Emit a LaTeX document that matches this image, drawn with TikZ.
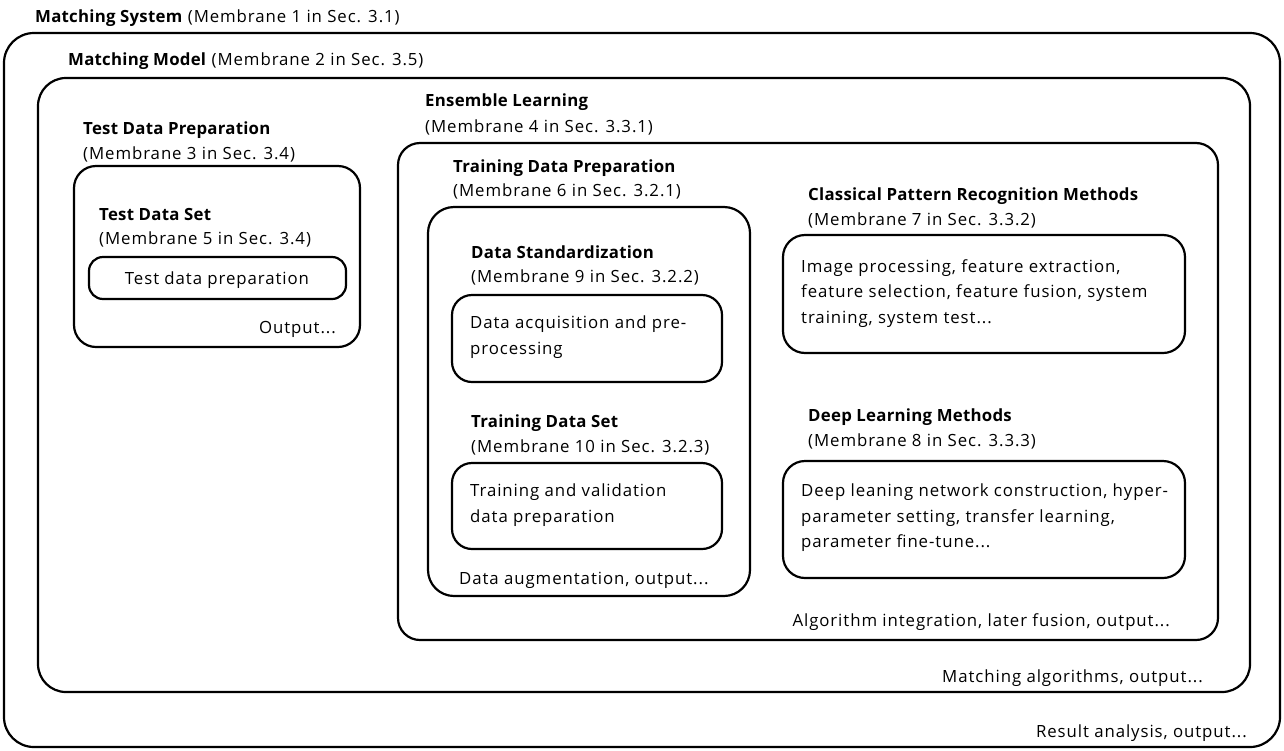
\documentclass[tikz,border=0pt]{standalone}
\usepackage{fontspec}
\setmainfont[LetterSpace=5.5,BoldFeatures={LetterSpace=1.5}]{Open Sans}
\begin{document}
\begin{tikzpicture}[x=1pt,y=-1pt,
  membrane/.style={draw, line width=2.2pt, rounded corners=#1},
  membrane/.default=22pt,
  lbl/.style={anchor=base west, inner sep=0pt, font=\fontsize{16.8}{20}\selectfont},
  lblr/.style={anchor=base east, inner sep=0pt, font=\fontsize{16.8}{20}\selectfont},
  body/.style={anchor=north west, inner sep=0pt, align=left, font=\fontsize{16.8}{25.5}\selectfont}]
\useasboundingbox (0,0) rectangle (1284,750);

% Membrane 1: matching system
\draw[membrane=30pt] (4,33) rectangle (1280,747);
\node[lbl] (t1) at (35,22) {\textbf{Matching System} (Membrane 1 in Sec. 3.1)};
\node[lblr] (o1) at (1247,737) {Result analysis, output...};

% Membrane 2: matching model
\draw[membrane=28pt] (38,78) rectangle (1250,692);
\node[lbl] (t2) at (68,65) {\textbf{Matching Model} (Membrane 2 in Sec. 3.5)};
\node[lblr] (o2) at (1203,682) {Matching algorithms, output...};

% Membrane 3: test data preparation
\node[lbl] (t3) at (83,134) {\textbf{Test Data Preparation}};
\node[lbl] (m3) at (83,159) {(Membrane 3 in Sec. 3.4)};
\draw[membrane] (74,166) rectangle (360,347);
\node[lblr] (o3) at (336,333) {Output...};

% Membrane 5: test data set
\node[lbl] (t5) at (99,220) {\textbf{Test Data Set}};
\node[lbl] (m5) at (99,244) {(Membrane 5 in Sec. 3.4)};
\draw[membrane=14pt] (89,257) rectangle (346,299);
\node[anchor=base, inner sep=0pt, font=\fontsize{16.8}{20}\selectfont] (b5) at (217,284) {Test data preparation};

% Membrane 4: ensemble learning
\node[lbl] (t4) at (425,106) {\textbf{Ensemble Learning}};
\node[lbl] (m4) at (425,132) {(Membrane 4 in Sec. 3.3.1)};
\draw[membrane] (398,143) rectangle (1218,640);
\node[lblr] (o4) at (1170,626) {Algorithm integration, later fusion, output...};

% Membrane 6: training data preparation
\node[lbl] (t6) at (453,172) {\textbf{Training Data Preparation}};
\node[lbl] (m6) at (453,196) {(Membrane 6 in Sec. 3.2.1)};
\draw[membrane=26pt] (428,207) rectangle (750,596);
\node[lbl] (o6) at (459,584) {Data augmentation, output...};

% Membrane 9: data standardization
\node[lbl] (t9) at (471,258) {\textbf{Data Standardization}};
\node[lbl] (m9) at (471,282) {(Membrane 9 in Sec. 3.2.2)};
\draw[membrane=20pt] (452,295) rectangle (722,382);
\node[body] (b9) at (470,316) {Data acquisition and pre-\\processing};

% Membrane 10: training data set
\node[lbl] (t10) at (471,427) {\textbf{Training Data Set}};
\node[lbl] (m10) at (471,452) {(Membrane 10 in Sec. 3.2.3)};
\draw[membrane=20pt] (452,463) rectangle (722,549);
\node[body] (b10) at (470,484) {Training and validation\\data preparation};

% Membrane 7: classical pattern recognition
\node[lbl] (t7) at (808,200) {\textbf{Classical Pattern Recognition Methods}};
\node[lbl] (m7) at (808,225) {(Membrane 7 in Sec. 3.3.2)};
\draw[membrane] (783,235) rectangle (1185,353);
\node[body] (b7) at (801,259) {Image processing, feature extraction,\\feature selection, feature fusion, system\\training, system test...};

% Membrane 8: deep learning
\node[lbl] (t8) at (808,421) {\textbf{Deep Learning Methods}};
\node[lbl] (m8) at (808,446) {(Membrane 8 in Sec. 3.3.3)};
\draw[membrane] (783,461) rectangle (1185,578);
\node[body] (b8) at (801,484) {Deep leaning network construction, hyper-\\parameter setting, transfer learning,\\parameter fine-tune...};
\end{tikzpicture}
\end{document}
